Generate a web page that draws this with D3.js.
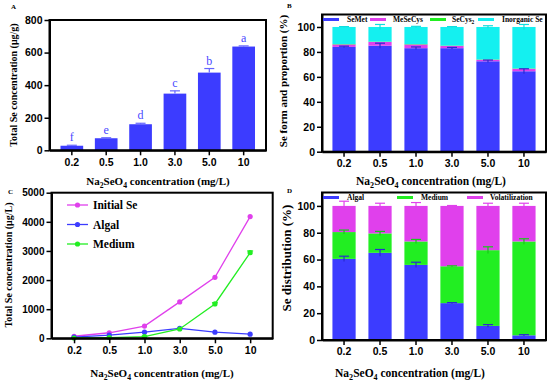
<!DOCTYPE html>
<html>
<head>
<meta charset="utf-8">
<script src="https://cdn.jsdelivr.net/npm/d3@7"></script>
<style>
  body { margin: 0; background: #fff; }
  svg { display: block; }
</style>
</head>
<body>
<svg id="chart" width="550" height="385"></svg>
<script>
// categorias (Na2SeO4, mg/L)
const concLabels = ["0.2", "0.5", "1.0", "3.0", "5.0", "10"];

// A - total Se nas algas (µg/g)
const totalSe = [28, 74, 160, 348, 477, 637];
const totalSeErr = [3, 3, 6, 17, 25, 4];
const totalSeLetters = ["f", "e", "d", "c", "b", "a"];

// B - formas de Se (%)
const seMet = [84, 85, 83, 83, 72.5, 64.5];
const meSeCys = [2, 3, 3, 1.8, 1.2, 2];
const seCys2 = [0.3, 0.3, 0.3, 0.3, 0.3, 0.3];
const inorganicSe = [13.7, 11.7, 13.7, 14.9, 26, 33.2];
const seMetErr = [0.6, 2, 1, 0.6, 1, 2];
const inorganicErr = [0.3, 2, 0.5, 0.3, 1, 2];

// C - concentração total de Se (µg/L)
const initialSe = [70, 190, 420, 1250, 2095, 4180];
const algalSe = [40, 110, 210, 340, 210, 140];
const mediumSe = [10, 25, 60, 320, 1180, 2940];
const mediumSeErr = [5, 5, 10, 20, 40, 60];

// D - distribuição de Se (%)
const algalPct = [60.5, 65, 56, 27.5, 10.5, 3.5];
const mediumPct = [20, 14.5, 17.5, 27.5, 56.5, 70];
const volatPct = [19.5, 20.5, 26.5, 45, 33, 26.5];
const algalPctErr = [2, 2.5, 2, 0.4, 1, 0.5];
const mediumPctErr = [1.5, 1.5, 1.5, 0.3, 2.5, 2];
const volatPctErr = [3.5, 2, 2.5, 0.3, 2, 2];

const serif = "'Liberation Serif', 'Times New Roman', serif";
const sans = "'Liberation Sans', Arial, sans-serif";

const blue = "#3c3cff";
const magenta = "#e040ec";
const green = "#22ee22";
const cyan = "#14f0f0";

const svg = d3.select("#chart");

// estilo dos eixos (linhas grossas, texto em negrito)
function styleAxis(g, size) {
	g.select(".domain").attr("stroke-width", 2);
	g.selectAll(".tick line").attr("stroke-width", 1.5);
	g.selectAll(".tick text")
		.attr("font-family", sans)
		.attr("font-weight", "bold")
		.attr("font-size", size)
		.attr("fill", "#000");
}

// moldura do gráfico
function drawFrame(x0, x1, y0, y1) {
	svg.append("rect")
		.attr("x", x0).attr("y", y0)
		.attr("width", x1 - x0).attr("height", y1 - y0)
		.attr("fill", "none").attr("stroke", "#000").attr("stroke-width", 2);
}

function drawText(x, y, txt, size, opts = {}) {
	const t = svg.append("text")
		.attr("x", x).attr("y", y)
		.attr("font-family", opts.family || serif)
		.attr("font-weight", opts.weight || "bold")
		.attr("font-size", size)
		.attr("fill", opts.fill || "#000")
		.attr("text-anchor", opts.anchor || "start");
	if (opts.rotate) t.attr("transform", `rotate(-90, ${x}, ${y})`);
	t.text(txt);
	return t;
}

// título do eixo x com subscritos
function xTitle(cx, y, size) {
	const t = svg.append("text")
		.attr("x", cx).attr("y", y)
		.attr("font-family", serif).attr("font-weight", "bold")
		.attr("font-size", size).attr("text-anchor", "middle");
	t.append("tspan").text("Na");
	t.append("tspan").attr("font-size", size * 0.7).attr("dy", 3).text("2");
	t.append("tspan").attr("dy", -3).text("SeO");
	t.append("tspan").attr("font-size", size * 0.7).attr("dy", 3).text("4");
	t.append("tspan").attr("dy", -3).text(" concentration (mg/L)");
}

function errBar(x, yTop, yEnd, yStart, color, cap) {
	svg.append("line")
		.attr("x1", x).attr("x2", x).attr("y1", yStart).attr("y2", yEnd)
		.attr("stroke", color).attr("stroke-width", 1.2);
	svg.append("line")
		.attr("x1", x - cap / 2).attr("x2", x + cap / 2).attr("y1", yEnd).attr("y2", yEnd)
		.attr("stroke", color).attr("stroke-width", 1.2);
}

// ---------------- Painel A ----------------
{
	const x = d3.scaleBand().domain(concLabels).range([49.5, 266])
		.paddingInner(0.34).paddingOuter(0.32);
	const y = d3.scaleLinear().domain([0, 800]).range([150.3, 20]);

	svg.append("g").selectAll("rect").data(concLabels).join("rect")
		.attr("x", d => x(d)).attr("width", x.bandwidth())
		.attr("y", (d, i) => y(totalSe[i]))
		.attr("height", (d, i) => y(0) - y(totalSe[i]))
		.attr("fill", blue);

	concLabels.forEach((d, i) => {
		const cx = x(d) + x.bandwidth() / 2;
		errBar(cx, y(totalSe[i]), y(totalSe[i] + totalSeErr[i]), y(totalSe[i]), "#6464ff", 10);
		drawText(cx, y(totalSe[i] + totalSeErr[i]) - 4, totalSeLetters[i], 12,
			{ weight: "normal", fill: "#4a4aff", anchor: "middle" });
	});

	drawFrame(49.5, 266, 20, 150.3);
	const ga = svg.append("g").attr("transform", "translate(49.5,0)")
		.call(d3.axisLeft(y).tickValues([0, 200, 400, 600, 800]).tickSize(5).tickSizeOuter(0).tickPadding(2));
	styleAxis(ga, 10.5);
	const gb = svg.append("g").attr("transform", "translate(0,150.3)")
		.call(d3.axisBottom(x).tickSize(5).tickSizeOuter(0).tickPadding(3));
	styleAxis(gb, 10.5);

	drawText(17, 85, "Total Se concentration (μg/g)", 10, { anchor: "middle", rotate: true });
	xTitle(158, 185, 11);
	drawText(11, 9, "A", 7);
}

// barras empilhadas (B e D)
function stackedPanel(keys, series, errs, colors, errColors, yr, top, legend) {
	const rows = concLabels.map((c, i) => {
		const r = { conc: c };
		keys.forEach((k, j) => { r[k] = series[j][i]; });
		return r;
	});
	const stacked = d3.stack().keys(keys)(rows);

	const x = d3.scaleBand().domain(concLabels).range([322, 546])
		.paddingInner(0.355).paddingOuter(0.29);
	const y = d3.scaleLinear().domain([0, 110]).range(yr);

	stacked.forEach((layer, j) => {
		svg.append("g").selectAll("rect").data(layer).join("rect")
			.attr("x", d => x(d.data.conc)).attr("width", x.bandwidth())
			.attr("y", d => y(d[1]))
			.attr("height", d => Math.max(0, y(d[0]) - y(d[1])))
			.attr("fill", colors[j]);
	});

	// barras de erro
	stacked.forEach((layer, j) => {
		if (!errs[j]) return;
		layer.forEach((d, i) => {
			const cx = x(d.data.conc) + x.bandwidth() / 2;
			const e = errs[j][i];
			errBar(cx, y(d[1]), y(d[1] + e), y(d[1] - e), errColors[j], 10);
		});
	});

	drawFrame(322, 546, top, yr[0]);
	const ga = svg.append("g").attr("transform", "translate(322,0)")
		.call(d3.axisLeft(y).tickValues([0, 20, 40, 60, 80, 100]).tickSize(5).tickSizeOuter(0).tickPadding(2));
	styleAxis(ga, 10.5);
	const gb = svg.append("g").attr("transform", `translate(0,${yr[0]})`)
		.call(d3.axisBottom(x).tickSize(5).tickSizeOuter(0).tickPadding(3));
	styleAxis(gb, 10.5);

	// legenda
	legend.forEach(l => {
		svg.append("rect")
			.attr("x", l.sx).attr("y", l.y - 1.5)
			.attr("width", 16).attr("height", 3)
			.attr("fill", l.color);
		const t = svg.append("text")
			.attr("x", l.tx).attr("y", l.y + 2.5)
			.attr("font-family", serif).attr("font-weight", "bold")
			.attr("font-size", 7.5);
		t.append("tspan").text(l.label);
		if (l.sub) t.append("tspan").attr("font-size", 5.5).attr("dy", 2).text(l.sub);
	});
}

// ---------------- Painel B ----------------
stackedPanel(
	["SeMet", "MeSeCys", "SeCys2", "Inorganic"],
	[seMet, meSeCys, seCys2, inorganicSe],
	[seMetErr, null, null, inorganicErr],
	[blue, magenta, green, cyan],
	["#2a2ad0", magenta, green, "#10dede"],
	[151.7, 14.5], 14.5,
	[
		{ sx: 323, tx: 347, y: 19.5, color: blue, label: "SeMet" },
		{ sx: 370, tx: 393, y: 19.5, color: magenta, label: "MeSeCys" },
		{ sx: 430, tx: 452, y: 19.5, color: green, label: "SeCys", sub: "2" },
		{ sx: 478, tx: 502, y: 19.5, color: cyan, label: "Inorganic Se" }
	]
);
drawText(287, 81, "Se form and proportion (%)", 11, { anchor: "middle", rotate: true });
xTitle(431, 185, 11.5);
drawText(287, 8, "B", 7);

// ---------------- Painel C ----------------
{
	const x = d3.scalePoint().domain(concLabels).range([51.5, 272.7]).padding(0.64);
	const y = d3.scaleLinear().domain([0, 5000]).range([338.3, 192.7]);

	const lines = [
		{ name: "Initial Se", vals: initialSe, color: magenta, ly: 205 },
		{ name: "Algal", vals: algalSe, color: blue, ly: 224.5 },
		{ name: "Medium", vals: mediumSe, color: green, ly: 244 }
	];
	const line = d3.line().x(d => x(d.c)).y(d => y(d.v));

	// erro do meio
	concLabels.forEach((c, i) => {
		const cx = x(c);
		errBar(cx, y(mediumSe[i]), y(mediumSe[i] + mediumSeErr[i]), y(mediumSe[i] - mediumSeErr[i]), green, 6);
	});

	lines.forEach(s => {
		const pts = concLabels.map((c, i) => ({ c, v: s.vals[i] }));
		svg.append("path").datum(pts)
			.attr("d", line).attr("fill", "none")
			.attr("stroke", s.color).attr("stroke-width", 1.3);
		svg.append("g").selectAll("circle").data(pts).join("circle")
			.attr("cx", d => x(d.c)).attr("cy", d => y(d.v)).attr("r", 2.6)
			.attr("fill", s.color);
		// legenda
		svg.append("line").attr("x1", 67).attr("x2", 88).attr("y1", s.ly).attr("y2", s.ly)
			.attr("stroke", s.color).attr("stroke-width", 1.3);
		svg.append("circle").attr("cx", 77.5).attr("cy", s.ly).attr("r", 2.6).attr("fill", s.color);
		drawText(93, s.ly + 4, s.name, 11.5);
	});

	drawFrame(51.5, 272.7, 192.7, 338.3);
	const ga = svg.append("g").attr("transform", "translate(51.5,0)")
		.call(d3.axisLeft(y).tickValues([0, 1000, 2000, 3000, 4000, 5000])
			.tickFormat(d3.format("d")).tickSize(5).tickSizeOuter(0).tickPadding(2));
	styleAxis(ga, 10);
	const gb = svg.append("g").attr("transform", "translate(0,338.3)")
		.call(d3.axisBottom(x).tickSize(5).tickSizeOuter(0).tickPadding(3));
	styleAxis(gb, 10.5);

	drawText(12, 265, "Total Se concentration (μg/L)", 10, { anchor: "middle", rotate: true });
	xTitle(162, 377, 11);
	drawText(8, 194, "C", 7);
}

// ---------------- Painel D ----------------
stackedPanel(
	["Algal", "Medium", "Volatilization"],
	[algalPct, mediumPct, volatPct],
	[algalPctErr, mediumPctErr, volatPctErr],
	[blue, green, magenta],
	["#2a2ad0", "#18c818", magenta],
	[340, 192.5], 192.5,
	[
		{ sx: 323, tx: 347, y: 197.5, color: blue, label: "Algal" },
		{ sx: 397, tx: 421, y: 197.5, color: green, label: "Medium" },
		{ sx: 467, tx: 490, y: 197.5, color: magenta, label: "Volatilization" }
	]
);
drawText(291, 258, "Se distribution (%)", 13, { anchor: "middle", rotate: true });
xTitle(410, 377, 11.5);
drawText(287, 193, "D", 7);
</script>
</body>
</html>
